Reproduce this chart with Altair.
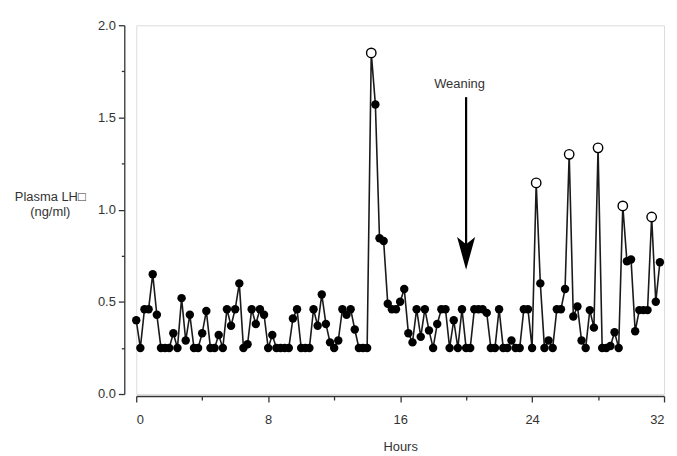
import altair as alt
import pandas as pd

# Plasma LH values, one sample every 15 minutes
lh_values = [
    0.40, 0.25, 0.46, 0.46, 0.65, 0.43, 0.25, 0.25, 0.25, 0.33,
    0.25, 0.52, 0.29, 0.43, 0.25, 0.25, 0.33, 0.45, 0.25, 0.25,
    0.32, 0.25, 0.46, 0.37, 0.46, 0.60, 0.25, 0.27, 0.46, 0.38,
    0.46, 0.43, 0.25, 0.32, 0.25, 0.25, 0.25, 0.25, 0.41, 0.46,
    0.25, 0.25, 0.25, 0.46, 0.37, 0.54, 0.38, 0.28, 0.25, 0.29,
    0.46, 0.43, 0.46, 0.35, 0.25, 0.25, 0.25, 1.85, 1.57, 0.845,
    0.83, 0.49, 0.46, 0.46, 0.50, 0.57, 0.33, 0.28, 0.46, 0.31,
    0.46, 0.345, 0.25, 0.38, 0.46, 0.46, 0.25, 0.40, 0.25, 0.46,
    0.25, 0.25, 0.46, 0.46, 0.46, 0.44, 0.25, 0.25, 0.46, 0.25,
    0.25, 0.29, 0.25, 0.25, 0.46, 0.46, 0.25, 1.145, 0.60, 0.25,
    0.29, 0.25, 0.46, 0.46, 0.57, 1.30, 0.42, 0.475, 0.29, 0.25,
    0.455, 0.36, 1.335, 0.25, 0.25, 0.26, 0.335, 0.25, 1.02, 0.72,
    0.73, 0.34, 0.455, 0.455, 0.455, 0.96, 0.50, 0.715,
]
pulse_peaks = [57, 97, 105, 112, 118, 125]   # samples drawn as open circles
sample_step_hours = 0.25

x_ticks = [0, 4, 8, 12, 16, 20, 24, 28, 32]
y_ticks = [0, 0.25, 0.5, 0.75, 1.0, 1.25, 1.5, 1.75, 2.0]

arrow_hour = [20.0]
arrow_top = [1.61]
arrow_shaft_end = [0.80]
arrow_head_center = [0.763]
note_hour = [19.6]
note_value = [1.68]
note_text = ["Weaning"]

FONT = "Liberation Sans"
INK = "#333333"

hours = [i * sample_step_hours for i in range(len(lh_values))]
df = pd.DataFrame({
    "hours": hours,
    "lh": lh_values,
    "peak": [i in pulse_peaks for i in range(len(lh_values))],
})
peaks_df = df[df["peak"]]
arrow_df = pd.DataFrame({"hours": arrow_hour, "lh": arrow_top, "lh2": arrow_shaft_end})
head_df = pd.DataFrame({"hours": arrow_hour, "lh": arrow_head_center})
note_df = pd.DataFrame({"hours": note_hour, "lh": note_value, "text": note_text})

x_axis = alt.Axis(
    values=x_ticks,
    labelExpr="datum.value % 8 === 0 ? datum.value : ''",
    tickSize={"condition": {"test": "datum.value % 8 === 0", "value": 6}, "value": 4},
    offset=2, grid=False,
    domainColor=INK, tickColor=INK, domainWidth=1.3, tickWidth=1.3,
    labelColor=INK, labelFont=FONT, labelFontSize=13, labelPadding=12,
    title="Hours", titleFont=FONT, titleFontSize=13, titleFontWeight="normal",
    titleColor=INK, titlePadding=14,
)
y_axis = alt.Axis(
    values=y_ticks,
    labelExpr="datum.value % 0.5 === 0 ? format(datum.value, '.1f') : ''",
    tickSize={"condition": {"test": "datum.value % 0.5 === 0", "value": 6}, "value": 3},
    offset=12, grid=False,
    domainColor=INK, tickColor=INK, domainWidth=1.3, tickWidth=1.3,
    labelColor=INK, labelFont=FONT, labelFontSize=13, labelPadding=3,
    title=["Plasma LH\u25a1", "(ng/ml)"], titleFont=FONT, titleFontSize=13,
    titleFontWeight="normal", titleColor=INK, titleAngle=0, titleAlign="center",
    titleBaseline="top", titleX=-75, titleY=166, titleLineHeight=15,
)

x_enc = alt.X("hours:Q", scale=alt.Scale(domain=[0, 32], nice=False, zero=False), axis=x_axis)
y_enc = alt.Y("lh:Q", scale=alt.Scale(domain=[0, 2], nice=False), axis=y_axis)

line = alt.Chart(df).mark_line(color="#1a1a1a", strokeWidth=1.6).encode(x=x_enc, y=y_enc)
dots = alt.Chart(df).mark_point(
    filled=True, color="black", size=72, opacity=1, shape="circle"
).encode(x=x_enc, y=y_enc)
open_dots = alt.Chart(peaks_df).mark_point(
    shape="circle", fill="white", stroke="black", strokeWidth=1.4, size=90, opacity=1, fillOpacity=1
).encode(x=x_enc, y=y_enc)

shaft = alt.Chart(arrow_df).mark_rule(color="black", strokeWidth=2.2).encode(
    x=x_enc, y=y_enc, y2="lh2:Q"
)
head = alt.Chart(head_df).mark_point(
    shape="M -0.55 -1 L 0 1 L 0.55 -1 L 0 -0.55 Z",
    filled=True, color="black", size=1089, opacity=1,
).encode(x=x_enc, y=y_enc)
note = alt.Chart(note_df).mark_text(
    font=FONT, fontSize=13, color=INK, align="center", baseline="middle"
).encode(x=x_enc, y=y_enc, text="text:N")

chart = alt.layer(line, dots, open_dots, shaft, head, note).properties(
    width=531, height=371,
    padding={"left": 129, "top": 16, "right": 5, "bottom": 58},
    autosize="none",
).configure_view(strokeWidth=0).configure(background="white")

chart.save("out.html", embed_options={"renderer": "svg", "actions": False})
